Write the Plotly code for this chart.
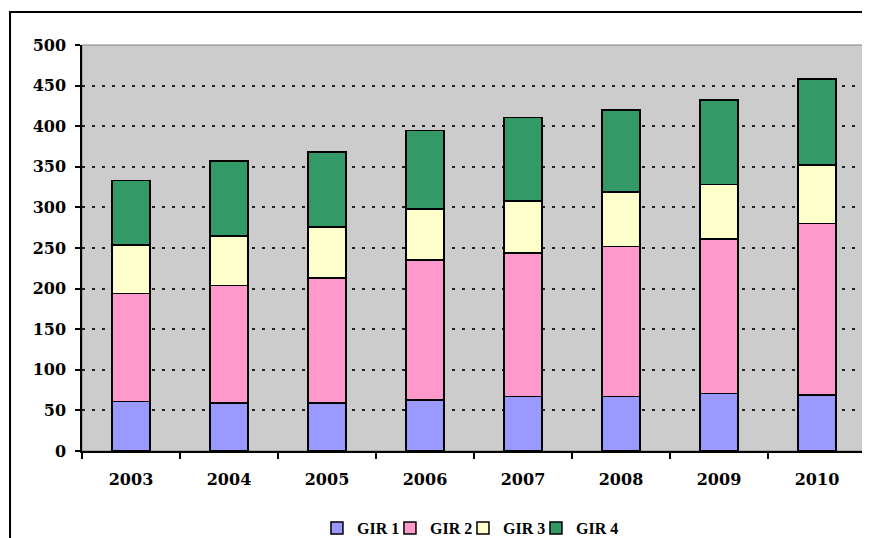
import plotly.graph_objects as go

years = ["2003", "2004", "2005", "2006", "2007", "2008", "2009", "2010"]
gir1 = [61, 59, 59, 63, 67, 67, 71, 69]
gir2 = [133, 145, 154, 172, 177, 185, 190, 211]
gir3 = [60, 61, 63, 63, 64, 67, 67, 72]
gir4 = [79, 92, 92, 97, 103, 101, 104, 106]
series_names = ["GIR 1", "GIR 2", "GIR 3", "GIR 4"]
colors = ["#9999FF", "#FF99CC", "#FFFFCC", "#339966"]

fig = go.Figure()
for name, vals, col in zip(series_names, [gir1, gir2, gir3, gir4], colors):
    fig.add_trace(go.Bar(x=years, y=vals, name=name,
                         marker=dict(color=col, line=dict(color="black", width=1.5))))

# invisible spacer legend entry so the last legend label is not clipped
fig.add_trace(go.Scatter(x=[None], y=[None], name=" ", mode="markers",
                         marker=dict(color="rgba(0,0,0,0)", size=1,
                                     line=dict(width=0, color="rgba(0,0,0,0)")),
                         hoverinfo="skip"))

font_tick = dict(family="DejaVu Serif", size=16, color="black", weight="bold")

# page body has an 8px margin, so the figure is sized to end at the window edge
fig.update_layout(
    barmode="stack",
    bargap=0.61,
    width=862, height=530,
    margin=dict(l=74, r=4, t=37, b=87, autoexpand=False),
    paper_bgcolor="white",
    plot_bgcolor="#CCCCCC",
    showlegend=True,
    legend=dict(orientation="h", x=0.2997, xanchor="left", y=-0.19, yanchor="middle",
                font=dict(family="Liberation Serif", size=16, color="black", weight="bold"),
                traceorder="normal", itemclick=False, tracegroupgap=0,
                entrywidth=28, entrywidthmode="pixels"),
    xaxis=dict(showline=True, linecolor="black", linewidth=1.5,
               ticks="outside", ticklen=6, tickcolor="black", tickwidth=1.5,
               tickson="boundaries", showgrid=False, tickfont=font_tick,
               ticklabelstandoff=13, automargin=False),
    yaxis=dict(range=[0, 500], dtick=50, showline=True, linecolor="black", linewidth=1.5,
               ticks="outside", ticklen=5, tickcolor="black", tickwidth=1.5,
               showgrid=True, gridcolor="#222222", gridwidth=2, griddash="3px,7px",
               tickfont=font_tick, ticklabelstandoff=6, zeroline=False, automargin=False),
    shapes=[
        dict(type="rect", xref="paper", yref="paper", x0=0, x1=1, y0=0, y1=1,
             line=dict(color="#808080", width=1), layer="below"),
        dict(type="rect", xref="paper", yref="paper", x0=-0.0918, x1=1.2, y0=-0.5, y1=1.0813,
             line=dict(color="black", width=2), fillcolor="rgba(0,0,0,0)"),
    ],
)

fig.write_html("out.html")
